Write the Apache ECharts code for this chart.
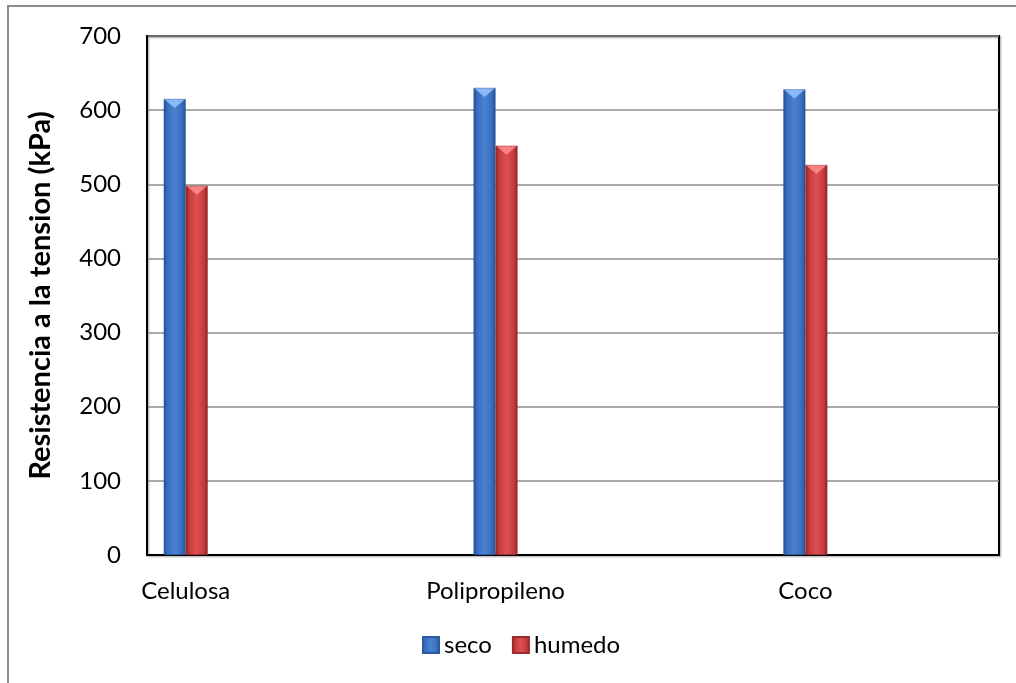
<!DOCTYPE html>
<html>
<head>
<meta charset="utf-8">
<script src="https://cdn.jsdelivr.net/npm/echarts@6/dist/echarts.min.js"></script>
<style>
  html, body { margin: 0; padding: 0; background: #fff; }
  #frame { position: absolute; left: 7px; top: 5px; right: -4px; bottom: -4px; border-left: 2px solid #8c8c8c; border-top: 2px solid #8c8c8c; }
  #chart { position: absolute; left: 0; top: 0; width: 1016px; height: 683px; }
</style>
</head>
<body>
<div id="frame"></div>
<div id="chart"></div>
<script>
// Tensile strength by fibre type, dry vs wet
const categories = ['Celulosa', 'Polipropileno', 'Coco'];
const seco = [615, 630, 628];
const humedo = [498, 552, 526];
const yTicks = [0, 100, 200, 300, 400, 500, 600, 700];

// each fibre sits in one slot of a wider axis, with empty slots between them
const STEP = 4;
const slots = (categories.length - 1) * STEP + 3;
const axisCats = [];
for (let i = 0; i < slots; i++) axisCats.push('');
categories.forEach((c, i) => { axisCats[i * STEP] = c; });
function spread(values) {
  const out = new Array(slots).fill(null);
  values.forEach((v, i) => { out[i * STEP] = v; });
  return out;
}

const BAR_W = 22;

function bevel(dark, mid, light) {
  return new echarts.graphic.LinearGradient(0, 0, 1, 0, [
    { offset: 0, color: dark },
    { offset: 0.18, color: mid },
    { offset: 0.5, color: light },
    { offset: 0.82, color: mid },
    { offset: 1, color: dark }
  ]);
}
const blueFill = bevel('#24508f', '#3a6fc0', '#4a82d2');
const redFill = bevel('#8f2424', '#c63c3c', '#dc5050');

// light bevelled cap on top of each bar: [slot, value, side(-1 left / +1 right)]
const caps = [];
seco.forEach((v, i) => caps.push([i * STEP, v, -1]));
humedo.forEach((v, i) => caps.push([i * STEP, v, 1]));

const font = 'Lato, "Open Sans", sans-serif';
const chart = echarts.init(document.getElementById('chart'));
chart.setOption({
  animation: false,
  textStyle: { fontFamily: font },
  grid: {
    left: 147, right: 17, top: 36, bottom: 128,
    show: true, borderColor: '#000', borderWidth: 2,
    shadowColor: 'rgba(0,0,0,0.35)', shadowBlur: 2, shadowOffsetX: 1, shadowOffsetY: 1
  },
  legend: {
    top: 628, left: 417,
    itemWidth: 16, itemHeight: 16, itemGap: 20,
    icon: 'rect',
    textStyle: { fontSize: 24, color: '#000', fontFamily: font, padding: [0, 0, 0, 0] },
    data: [
      { name: 'seco', itemStyle: { color: blueFill } },
      { name: 'humedo', itemStyle: { color: redFill } }
    ]
  },
  xAxis: {
    type: 'category',
    data: axisCats,
    axisLine: { lineStyle: { color: '#000', width: 2 } },
    axisTick: { show: false },
    axisLabel: { interval: 0, color: '#000', fontSize: 24, margin: 24 },
    splitLine: { show: false }
  },
  yAxis: {
    type: 'value',
    min: yTicks[0], max: yTicks[yTicks.length - 1], interval: 100,
    name: 'Resistencia a la tension (kPa)',
    nameLocation: 'middle', nameGap: 92, nameRotate: 90,
    nameTextStyle: { fontSize: 29, fontWeight: 'bold', color: '#000' },
    axisLine: { show: true, lineStyle: { color: '#000', width: 2 } },
    axisTick: { show: false },
    axisLabel: { color: '#000', fontSize: 24, margin: 26 },
    splitLine: { lineStyle: { color: '#8c8c8c', width: 1.5 } }
  },
  series: [
    {
      name: 'seco', type: 'bar', data: spread(seco),
      barWidth: BAR_W, barGap: '0%',
      itemStyle: { color: blueFill, borderColor: '#2c5a9c', borderWidth: 0.5 }
    },
    {
      name: 'humedo', type: 'bar', data: spread(humedo),
      barWidth: BAR_W, barGap: '0%',
      itemStyle: { color: redFill, borderColor: '#9c2c2c', borderWidth: 0.5 }
    },
    {
      type: 'custom',
      silent: true,
      z: 5,
      data: caps,
      renderItem: function (params, api) {
        const p = api.coord([api.value(0), api.value(1)]);
        const side = api.value(2);
        const x0 = side < 0 ? p[0] - BAR_W : p[0];
        const x1 = x0 + BAR_W;
        const y = p[1];
        const fill = side < 0 ? 'rgba(150,195,255,0.85)' : 'rgba(255,140,140,0.85)';
        return {
          type: 'polygon',
          shape: { points: [[x0 + 1, y + 0.5], [x1 - 1, y + 0.5], [(x0 + x1) / 2, y + 9]] },
          style: { fill: fill }
        };
      }
    }
  ]
});
</script>
</body>
</html>
